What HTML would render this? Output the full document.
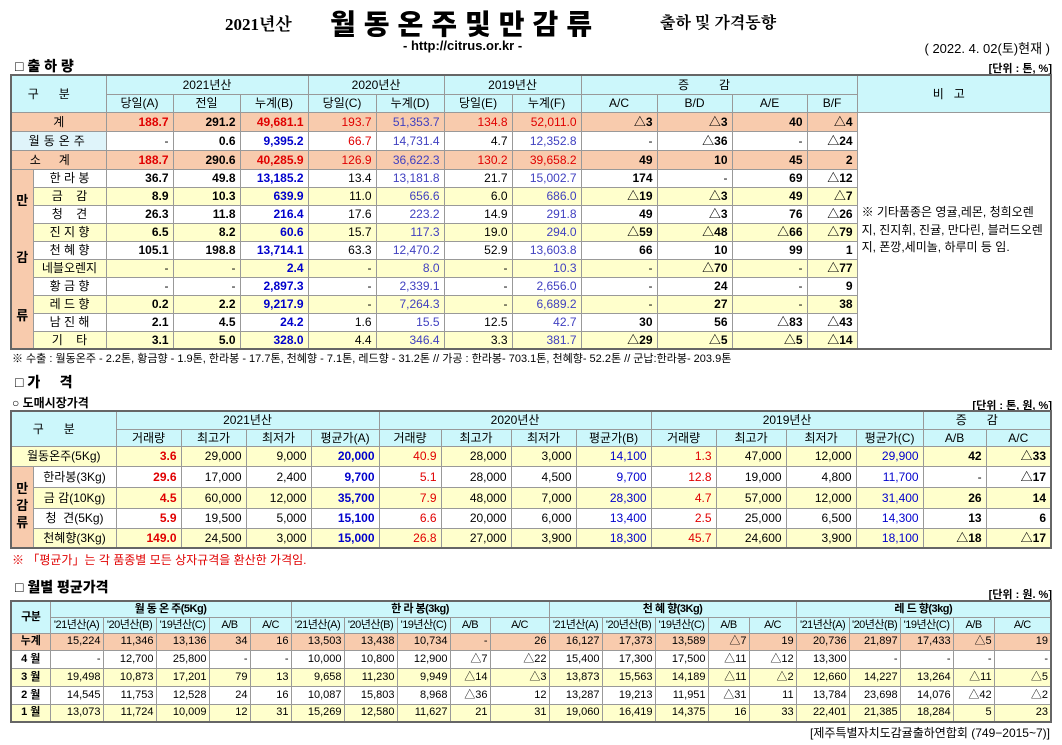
<!DOCTYPE html>
<html><head><meta charset="utf-8">
<style>
body{margin:0;width:1062px;height:745px;background:#fff;position:relative;overflow:hidden;font-family:"Liberation Sans","Noto Sans CJK KR",sans-serif;color:#000}
.a{position:absolute;white-space:nowrap}
table{position:absolute;border-collapse:collapse;table-layout:fixed;font-size:12px}
td{border:1px solid #999;padding:0 4px;text-align:right;overflow:hidden;white-space:nowrap;line-height:1}
.h td{background:#ccf7fb;text-align:center}
.c{text-align:center!important}
.s td{background:#f8cbad}
.y td{background:#ffffcc}
.r{color:#e00000}.b{font-weight:bold}.bl{color:#0000cc}.p{color:#4040c0}
.t1{border:2px solid #666}
.t3 td{padding:0 2px}
.t3 .h td{padding:0;letter-spacing:-0.5px}
.note{background:#fff!important;text-align:left!important;white-space:normal;line-height:1.45;vertical-align:middle}
.side{background:#f8cbad!important;text-align:center!important;font-weight:bold;font-size:13px;line-height:2.2}
</style></head><body>
<div class="a" style="left:225px;top:10px;font:bold 17px 'Liberation Serif','Noto Serif CJK SC',serif">2021년산</div>
<div class="a" style="left:330px;top:3px;font-weight:900;font-size:28px;letter-spacing:8px;font-family:'Noto Sans CJK KR',sans-serif">월동온주및만감류</div>
<div class="a" style="left:660px;top:10px;font-weight:bold;font-size:16px;font-family:'Noto Serif CJK SC',serif">출하 및 가격동향</div>
<div class="a" style="left:403px;top:38px;font-weight:bold;font-size:13px">- http://citrus.or.kr -</div>
<div class="a" style="right:12px;top:38px;font-size:13px">( 2022. 4. 02(토)현재 )</div>
<div class="a" style="left:15px;top:56px;font-weight:900;font-size:14px">□ 출 하 량</div>
<div class="a" style="right:10px;top:60px;font-size:11px;font-weight:bold">[단위 : 톤, %]</div>

<table class="t1" style="left:10px;top:74px;width:1042px">
<colgroup><col style="width:22px"><col style="width:73px"><col style="width:67px"><col style="width:67px"><col style="width:68px"><col style="width:68px"><col style="width:68px"><col style="width:68px"><col style="width:69px"><col style="width:76px"><col style="width:75px"><col style="width:75px"><col style="width:50px"><col></colgroup>
<tr class="h" style="height:19px"><td colspan="2" rowspan="2" style="letter-spacing:20px">구분</td><td colspan="3">2021년산</td><td colspan="2">2020년산</td><td colspan="2">2019년산</td><td colspan="4" style="letter-spacing:30px">증감</td><td rowspan="2" style="letter-spacing:10px">비고</td></tr>
<tr class="h" style="height:18px"><td>당일(A)</td><td>전일</td><td>누계(B)</td><td>당일(C)</td><td>누계(D)</td><td>당일(E)</td><td>누계(F)</td><td>A/C</td><td>B/D</td><td>A/E</td><td>B/F</td></tr>
<tr class="s" style="height:19px"><td colspan="2" class="c">계</td><td class="r b">188.7</td><td class="b">291.2</td><td class="r b">49,681.1</td><td class="r">193.7</td><td class="p">51,353.7</td><td class="r">134.8</td><td class="r">52,011.0</td><td class="b">△3</td><td class="b">△3</td><td class="b">40</td><td class="b">△4</td><td rowspan="13" class="note">※ 기타품종은 영귤,레몬, 청희오렌지, 진지휘, 진귤, 만다린, 블러드오렌지, 폰깡,세미놀, 하루미 등 임.</td></tr>
<tr style="height:19px"><td colspan="2" class="c" style="background:#dff4fa;letter-spacing:4px">월동온주</td><td>-</td><td class="b">0.6</td><td class="b bl">9,395.2</td><td class="r">66.7</td><td class="p">14,731.4</td><td>4.7</td><td class="p">12,352.8</td><td>-</td><td class="b">△36</td><td>-</td><td class="b">△24</td></tr>
<tr class="s" style="height:19px"><td colspan="2" class="c" style="letter-spacing:18px">소계</td><td class="r b">188.7</td><td class="b">290.6</td><td class="r b">40,285.9</td><td class="r">126.9</td><td class="p">36,622.3</td><td class="r">130.2</td><td class="r">39,658.2</td><td class="b">49</td><td class="b">10</td><td class="b">45</td><td class="b">2</td></tr>
<tr style="height:18px"><td rowspan="10" class="side">만<br><br>감<br><br>류</td><td class="c">한 라 봉</td><td class="b">36.7</td><td class="b">49.8</td><td class="b bl">13,185.2</td><td>13.4</td><td class="p">13,181.8</td><td>21.7</td><td class="p">15,002.7</td><td class="b">174</td><td>-</td><td class="b">69</td><td class="b">△12</td></tr>
<tr class="y" style="height:18px"><td class="c">금 &nbsp; &nbsp;감</td><td class="b">8.9</td><td class="b">10.3</td><td class="b bl">639.9</td><td>11.0</td><td class="p">656.6</td><td>6.0</td><td class="p">686.0</td><td class="b">△19</td><td class="b">△3</td><td class="b">49</td><td class="b">△7</td></tr>
<tr style="height:18px"><td class="c">청 &nbsp; &nbsp;견</td><td class="b">26.3</td><td class="b">11.8</td><td class="b bl">216.4</td><td>17.6</td><td class="p">223.2</td><td>14.9</td><td class="p">291.8</td><td class="b">49</td><td class="b">△3</td><td class="b">76</td><td class="b">△26</td></tr>
<tr class="y" style="height:18px"><td class="c">진 지 향</td><td class="b">6.5</td><td class="b">8.2</td><td class="b bl">60.6</td><td>15.7</td><td class="p">117.3</td><td>19.0</td><td class="p">294.0</td><td class="b">△59</td><td class="b">△48</td><td class="b">△66</td><td class="b">△79</td></tr>
<tr style="height:18px"><td class="c">천 혜 향</td><td class="b">105.1</td><td class="b">198.8</td><td class="b bl">13,714.1</td><td>63.3</td><td class="p">12,470.2</td><td>52.9</td><td class="p">13,603.8</td><td class="b">66</td><td class="b">10</td><td class="b">99</td><td class="b">1</td></tr>
<tr class="y" style="height:18px"><td class="c">네블오렌지</td><td>-</td><td>-</td><td class="b bl">2.4</td><td>-</td><td class="p">8.0</td><td>-</td><td class="p">10.3</td><td>-</td><td class="b">△70</td><td>-</td><td class="b">△77</td></tr>
<tr style="height:18px"><td class="c">황 금 향</td><td>-</td><td>-</td><td class="b bl">2,897.3</td><td>-</td><td class="p">2,339.1</td><td>-</td><td class="p">2,656.0</td><td>-</td><td class="b">24</td><td>-</td><td class="b">9</td></tr>
<tr class="y" style="height:18px"><td class="c">레 드 향</td><td class="b">0.2</td><td class="b">2.2</td><td class="b bl">9,217.9</td><td>-</td><td class="p">7,264.3</td><td>-</td><td class="p">6,689.2</td><td>-</td><td class="b">27</td><td>-</td><td class="b">38</td></tr>
<tr style="height:18px"><td class="c">남 진 해</td><td class="b">2.1</td><td class="b">4.5</td><td class="b bl">24.2</td><td>1.6</td><td class="p">15.5</td><td>12.5</td><td class="p">42.7</td><td class="b">30</td><td class="b">56</td><td class="b">△83</td><td class="b">△43</td></tr>
<tr class="y" style="height:18px"><td class="c">기 &nbsp; &nbsp;타</td><td class="b">3.1</td><td class="b">5.0</td><td class="b bl">328.0</td><td>4.4</td><td class="p">346.4</td><td>3.3</td><td class="p">381.7</td><td class="b">△29</td><td class="b">△5</td><td class="b">△5</td><td class="b">△14</td></tr>
</table>
<div class="a" style="left:12px;top:350px;font-size:11px">※ 수출 : 월동온주 - 2.2톤, 황금향 - 1.9톤, 한라봉 - 17.7톤, 천혜향 - 7.1톤, 레드향 - 31.2톤 // 가공 : 한라봉- 703.1톤, 천혜향- 52.2톤 // 군납:한라봉- 203.9톤</div>

<div class="a" style="left:15px;top:372px;font-weight:900;font-size:14px">□ 가 &nbsp; &nbsp; 격</div>
<div class="a" style="left:12px;top:394px;font-weight:bold;font-size:12px">○ 도매시장가격</div>
<div class="a" style="right:10px;top:397px;font-size:11px;font-weight:bold">[단위 : 톤, 원, %]</div>
<table class="t1" style="left:10px;top:410px;width:1042px">
<colgroup><col style="width:22px"><col style="width:83px"><col style="width:65px"><col style="width:65px"><col style="width:65px"><col style="width:68px"><col style="width:62px"><col style="width:70px"><col style="width:65px"><col style="width:75px"><col style="width:65px"><col style="width:70px"><col style="width:70px"><col style="width:67px"><col style="width:63px"><col></colgroup>
<tr class="h" style="height:18px"><td colspan="2" rowspan="2" style="letter-spacing:20px">구분</td><td colspan="4">2021년산</td><td colspan="4">2020년산</td><td colspan="4">2019년산</td><td colspan="2" style="letter-spacing:20px">증감</td></tr>
<tr class="h" style="height:17px"><td>거래량</td><td>최고가</td><td>최저가</td><td>평균가(A)</td><td>거래량</td><td>최고가</td><td>최저가</td><td>평균가(B)</td><td>거래량</td><td>최고가</td><td>최저가</td><td>평균가(C)</td><td>A/B</td><td>A/C</td></tr>
<tr class="y" style="height:20px"><td colspan="2" class="c">월동온주(5Kg)</td><td class="r b">3.6</td><td>29,000</td><td>9,000</td><td class="bl b">20,000</td><td class="r">40.9</td><td>28,000</td><td>3,000</td><td class="bl">14,100</td><td class="r">1.3</td><td>47,000</td><td>12,000</td><td class="bl">29,900</td><td class="b">42</td><td class="b">△33</td></tr>
<tr style="height:21px"><td rowspan="4" class="side" style="background:#f8cbad;line-height:1.3">만<br>감<br>류</td><td class="c">한라봉(3Kg)</td><td class="r b">29.6</td><td>17,000</td><td>2,400</td><td class="bl b">9,700</td><td class="r">5.1</td><td>28,000</td><td>4,500</td><td class="bl">9,700</td><td class="r">12.8</td><td>19,000</td><td>4,800</td><td class="bl">11,700</td><td>-</td><td class="b">△17</td></tr>
<tr class="y" style="height:21px"><td class="c">금 감(10Kg)</td><td class="r b">4.5</td><td>60,000</td><td>12,000</td><td class="bl b">35,700</td><td class="r">7.9</td><td>48,000</td><td>7,000</td><td class="bl">28,300</td><td class="r">4.7</td><td>57,000</td><td>12,000</td><td class="bl">31,400</td><td class="b">26</td><td class="b">14</td></tr>
<tr style="height:20px"><td class="c">청 &nbsp;견(5Kg)</td><td class="r b">5.9</td><td>19,500</td><td>5,000</td><td class="bl b">15,100</td><td class="r">6.6</td><td>20,000</td><td>6,000</td><td class="bl">13,400</td><td class="r">2.5</td><td>25,000</td><td>6,500</td><td class="bl">14,300</td><td class="b">13</td><td class="b">6</td></tr>
<tr class="y" style="height:20px"><td class="c">천혜향(3Kg)</td><td class="r b">149.0</td><td>24,500</td><td>3,000</td><td class="bl b">15,000</td><td class="r">26.8</td><td>27,000</td><td>3,900</td><td class="bl">18,300</td><td class="r">45.7</td><td>24,600</td><td>3,900</td><td class="bl">18,100</td><td class="b">△18</td><td class="b">△17</td></tr>
</table>
<div class="a" style="left:12px;top:551px;font-size:12px;color:#e00000">※ 「평균가」는 각 품종별 모든 상자규격을 환산한 가격임.</div>

<div class="a" style="left:15px;top:577px;font-weight:900;font-size:14px">□ 월별 평균가격</div>
<div class="a" style="right:10px;top:586px;font-size:11px;font-weight:bold">[단위 : 원. %]</div>
<table class="t1 t3" style="left:10px;top:600px;width:1042px;font-size:11px">
<colgroup><col style="width:39px"><col style="width:53px"><col style="width:53px"><col style="width:53px"><col style="width:41px"><col style="width:41px"><col style="width:53px"><col style="width:53px"><col style="width:53px"><col style="width:40px"><col style="width:59px"><col style="width:53px"><col style="width:53px"><col style="width:53px"><col style="width:41px"><col style="width:47px"><col style="width:53px"><col style="width:51px"><col style="width:53px"><col style="width:41px"><col></colgroup>
<tr class="h" style="height:16px"><td rowspan="2" class="b">구분</td><td colspan="5" class="b">월 동 온 주(5Kg)</td><td colspan="5" class="b">한 라 봉(3kg)</td><td colspan="5" class="b">천 혜 향(3Kg)</td><td colspan="5" class="b">레 드 향(3kg)</td></tr>
<tr class="h" style="height:16px"><td>'21년산(A)</td><td>'20년산(B)</td><td>'19년산(C)</td><td>A/B</td><td>A/C</td><td>'21년산(A)</td><td>'20년산(B)</td><td>'19년산(C)</td><td>A/B</td><td>A/C</td><td>'21년산(A)</td><td>'20년산(B)</td><td>'19년산(C)</td><td>A/B</td><td>A/C</td><td>'21년산(A)</td><td>'20년산(B)</td><td>'19년산(C)</td><td>A/B</td><td>A/C</td></tr>
<tr class="s" style="height:17px"><td class="c b">누계</td><td>15,224</td><td>11,346</td><td>13,136</td><td>34</td><td>16</td><td>13,503</td><td>13,438</td><td>10,734</td><td>-</td><td>26</td><td>16,127</td><td>17,373</td><td>13,589</td><td>△7</td><td>19</td><td>20,736</td><td>21,897</td><td>17,433</td><td>△5</td><td>19</td></tr>
<tr style="height:18px"><td class="c b">4 월</td><td>-</td><td>12,700</td><td>25,800</td><td>-</td><td>-</td><td>10,000</td><td>10,800</td><td>12,900</td><td>△7</td><td>△22</td><td>15,400</td><td>17,300</td><td>17,500</td><td>△11</td><td>△12</td><td>13,300</td><td>-</td><td>-</td><td>-</td><td>-</td></tr>
<tr class="y" style="height:18px"><td class="c b">3 월</td><td>19,498</td><td>10,873</td><td>17,201</td><td>79</td><td>13</td><td>9,658</td><td>11,230</td><td>9,949</td><td>△14</td><td>△3</td><td>13,873</td><td>15,563</td><td>14,189</td><td>△11</td><td>△2</td><td>12,660</td><td>14,227</td><td>13,264</td><td>△11</td><td>△5</td></tr>
<tr style="height:18px"><td class="c b">2 월</td><td>14,545</td><td>11,753</td><td>12,528</td><td>24</td><td>16</td><td>10,087</td><td>15,803</td><td>8,968</td><td>△36</td><td>12</td><td>13,287</td><td>19,213</td><td>11,951</td><td>△31</td><td>11</td><td>13,784</td><td>23,698</td><td>14,076</td><td>△42</td><td>△2</td></tr>
<tr class="y" style="height:18px"><td class="c b">1 월</td><td>13,073</td><td>11,724</td><td>10,009</td><td>12</td><td>31</td><td>15,269</td><td>12,580</td><td>11,627</td><td>21</td><td>31</td><td>19,060</td><td>16,419</td><td>14,375</td><td>16</td><td>33</td><td>22,401</td><td>21,385</td><td>18,284</td><td>5</td><td>23</td></tr>
</table>
<div class="a" style="right:12px;top:724px;font-size:12px">[제주특별자치도감귤출하연합회 (749−2015~7)]</div>
</body></html>
